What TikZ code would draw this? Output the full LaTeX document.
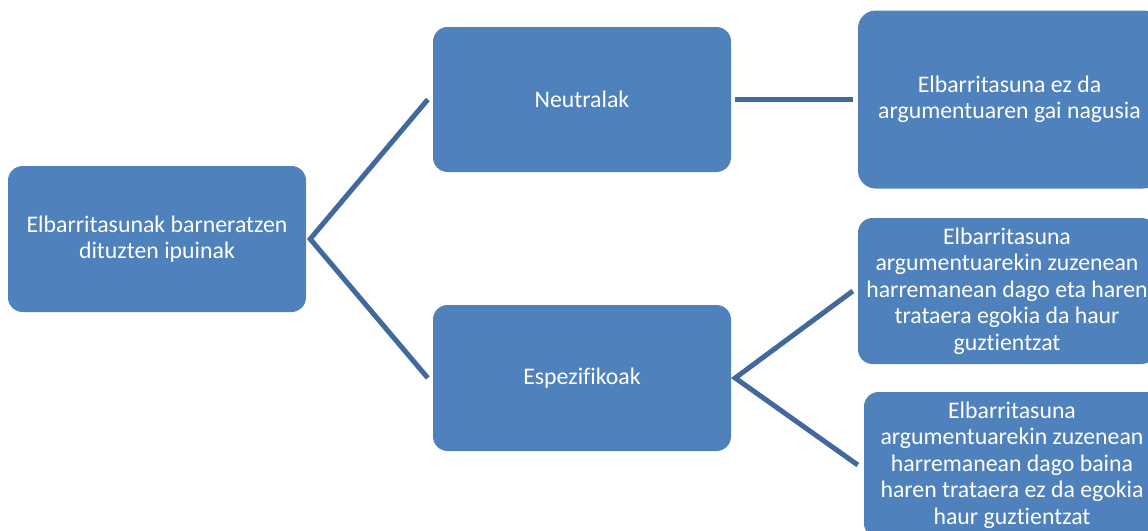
\documentclass[tikz,border=0pt]{standalone}
\usepackage{fontspec}
\setmainfont{Carlito}[Ligatures=NoCommon]
\definecolor{boxblue}{HTML}{4F81BD}
\definecolor{lineblue}{HTML}{41699C}
\begin{document}
\begin{tikzpicture}[x=1pt,y=-1pt,
  box/.style={fill=boxblue,draw=none,rounded corners=14.6pt,text=white,align=center,
    font=\fontsize{23.8}{26.5}\selectfont,inner sep=0pt},
  conn/.style={draw=lineblue,line width=5pt}]
\useasboundingbox (0,0) rectangle (1148,530);
\clip (0,0) rectangle (1148,530);
\fill[white] (0,0) rectangle (1148,530);
% boxes
\node[box,minimum width=298pt,minimum height=146pt] (L) at (157,239) {Elbarritasunak barneratzen\\dituzten ipuinak};
\node[box,minimum width=298pt,minimum height=145pt] (N) at (582,99.5) {Neutralak};
\node[box,minimum width=298pt,minimum height=146pt] (E) at (582,378) {Espezifikoak};
\node[box,rounded corners=17.8pt,minimum width=303pt,minimum height=178pt] (T1) at (1009.5,99.5) {Elbarritasuna ez da\\argumentuaren gai nagusia};
\node[box,minimum width=298pt,minimum height=146pt] (T2) at (1007,291) {Elbarritasuna\\argumentuarekin zuzenean\\harremanean dago eta haren\\trataera egokia da haur\\guztientzat};
\node[box,minimum width=296pt,minimum height=146pt] (T3) at (1012,465) {Elbarritasuna\\argumentuarekin zuzenean\\harremanean dago baina\\haren trataera ez da egokia\\haur guztientzat};
% connectors
\coordinate (Lo) at ([xshift=4pt]L.east);
\coordinate (No) at ([xshift=4pt]N.east);
\coordinate (Eo) at ([xshift=4pt]E.east);
\draw[conn] ([xshift=-5pt]N.west) -- (Lo) -- ([xshift=-5pt]E.west);
\draw[conn] (No) -- ([xshift=-5pt]T1.west);
\draw[conn] ([xshift=-5pt]T2.west) -- (Eo) -- ([xshift=-6pt]T3.west);
\end{tikzpicture}
\end{document}
